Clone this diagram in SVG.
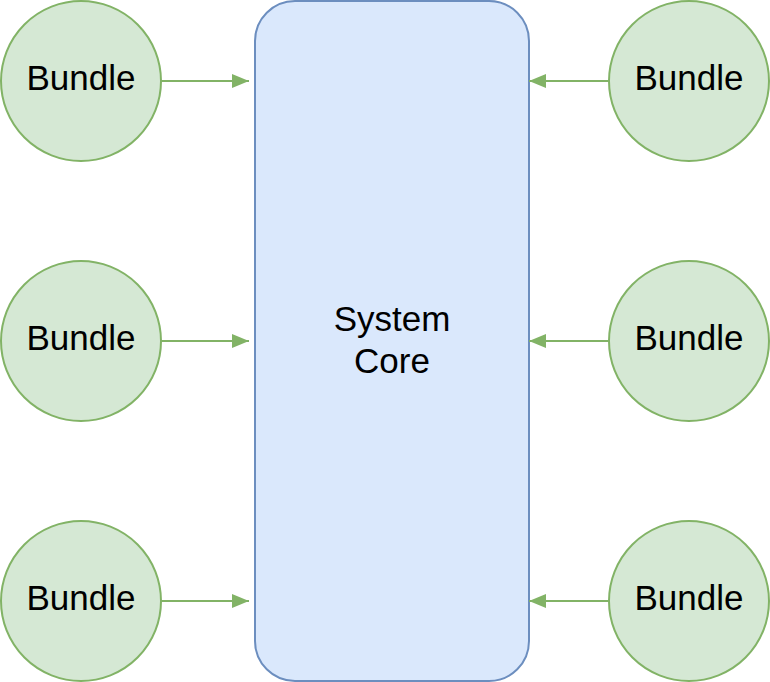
<svg xmlns="http://www.w3.org/2000/svg" width="770" height="682" viewBox="0 0 770 682">
<style>
.b{fill:#d5e8d4;stroke:#82b366;stroke-width:2}
.t{font-family:"Liberation Sans",Arial,sans-serif;font-size:35px;text-anchor:middle;fill:#000}
.c{stroke:#82b366;stroke-width:2;fill:none}
</style>
<defs><marker id="a" markerWidth="18" markerHeight="14" refX="17" refY="7" orient="auto" markerUnits="userSpaceOnUse"><path d="M0,0L17,7L0,14z" fill="#82b366"/></marker></defs>
<rect width="770" height="682" fill="#fff"/>
<g id="core"><rect x="255" y="1" width="274" height="680" rx="40" fill="#dae8fc" stroke="#6c8ebf" stroke-width="2"/>
<text class="t" x="392" y="331">System</text><text class="t" x="392" y="373">Core</text></g>
<g id="n1"><circle class="b" cx="81" cy="81" r="80"/><text class="t" x="81" y="90">Bundle</text></g>
<g id="n2"><circle class="b" cx="81" cy="341" r="80"/><text class="t" x="81" y="350">Bundle</text></g>
<g id="n3"><circle class="b" cx="81" cy="601" r="80"/><text class="t" x="81" y="610">Bundle</text></g>
<g id="n4"><circle class="b" cx="689" cy="81" r="80"/><text class="t" x="689" y="90">Bundle</text></g>
<g id="n5"><circle class="b" cx="689" cy="341" r="80"/><text class="t" x="689" y="350">Bundle</text></g>
<g id="n6"><circle class="b" cx="689" cy="601" r="80"/><text class="t" x="689" y="610">Bundle</text></g>
<g id="connectors">
<path class="c" d="M161,81H249" marker-end="url(#a)"/>
<path class="c" d="M161,341H249" marker-end="url(#a)"/>
<path class="c" d="M161,601H249" marker-end="url(#a)"/>
<path class="c" d="M609,81H529" marker-end="url(#a)"/>
<path class="c" d="M609,341H529" marker-end="url(#a)"/>
<path class="c" d="M609,601H529" marker-end="url(#a)"/>
</g>
</svg>
